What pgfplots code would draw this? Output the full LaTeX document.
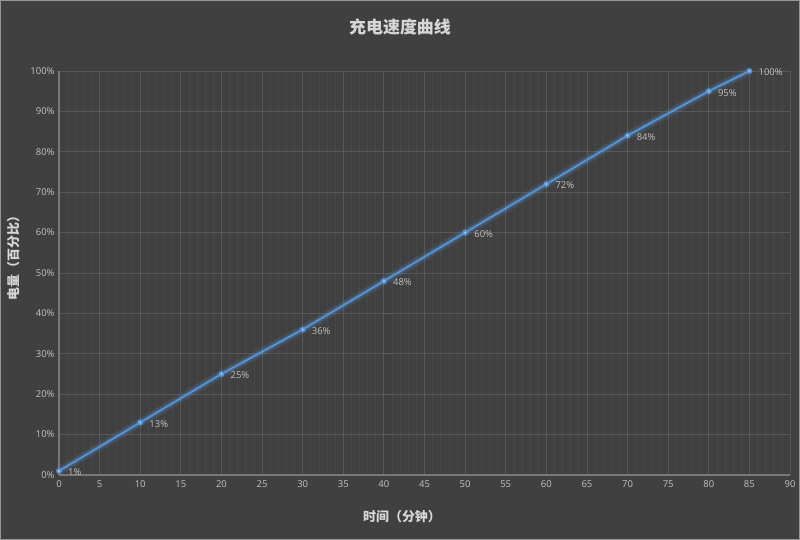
\documentclass[border=0pt]{standalone}
\usepackage{pgfplots}
\pgfplotsset{compat=1.18}
\usepackage{fontspec}
\setmainfont{Open Sans}
\newfontfamily\cjk{Noto Sans CJK SC}
\definecolor{bgc}{RGB}{64,64,64}
\definecolor{majg}{RGB}{88,88,88}
\definecolor{ming}{RGB}{72,72,72}
\definecolor{axc}{RGB}{120,120,120}
\definecolor{txt}{RGB}{195,195,195}
\definecolor{ttl}{RGB}{215,215,215}
\definecolor{ln}{RGB}{86,148,214}
\definecolor{brd}{RGB}{150,150,150}
\definecolor{mk}{RGB}{190,215,245}
\begin{document}
\begin{tikzpicture}[x=1bp,y=1bp]
\fill[bgc] (0,0) rectangle (800,540);
\draw[line width=1bp,brd] (0.5,0.5) rectangle (799.5,539.5);
\node[font=\cjk\bfseries\fontsize{17}{19}\selectfont, text=ttl] at (400,513) {充电速度曲线};
\node[font=\cjk\bfseries\fontsize{13}{15}\selectfont, text=ttl] at (402,23) {时间（分钟）};
\node[font=\cjk\bfseries\fontsize{13}{15}\selectfont, text=ttl, rotate=90] at (14,285) {电量（百分比）};
\begin{axis}[
  at={(59bp,65bp)}, anchor=south west,
  scale only axis, width=731bp, height=404bp,
  xmin=0, xmax=90, ymin=0, ymax=100,
  xtick={0,5,...,90}, ytick={0,10,...,100},
  minor x tick num=4,
  grid=both,
  major grid style={majg, line width=0.9bp},
  minor grid style={ming, line width=0.7bp},
  separate axis lines,
  axis x line*=bottom, axis y line*=left,
  x axis line style={axc, line width=1.3bp, -},
  y axis line style={axc, line width=1.3bp, -},
  tick style={draw=none},
  major tick length=0pt, minor tick length=0pt,
  tick label style={font=\fontsize{9.5}{11}\selectfont, text=txt},
  /pgf/number format/assume math mode=true,
  yticklabel={\pgfmathprintnumber{\tick}\%},
  xticklabel style={yshift=-2bp},
  yticklabel style={xshift=-1bp},
  clip=false,
]
\addplot[ln, opacity=0.12, line width=9bp, forget plot] coordinates {
(0,1) (10,13) (20,25) (30,36) (40,48) (50,60) (60,72) (70,84) (80,95) (85,100)};
\addplot[ln, opacity=0.25, line width=5bp, forget plot] coordinates {
(0,1) (10,13) (20,25) (30,36) (40,48) (50,60) (60,72) (70,84) (80,95) (85,100)};
\addplot[ln, line width=1.8bp, mark=*, mark size=2bp,
  mark options={fill=mk, draw=none},
  point meta=y,
  nodes near coords={\pgfmathprintnumber{\pgfplotspointmeta}\%},
  nodes near coords style={anchor=west, xshift=5bp, yshift=-1.5bp, font=\fontsize{9.5}{11}\selectfont, text=txt}
] coordinates {
(0,1) (10,13) (20,25) (30,36) (40,48) (50,60) (60,72) (70,84) (80,95) (85,100)};
\end{axis}
\end{tikzpicture}
\end{document}
